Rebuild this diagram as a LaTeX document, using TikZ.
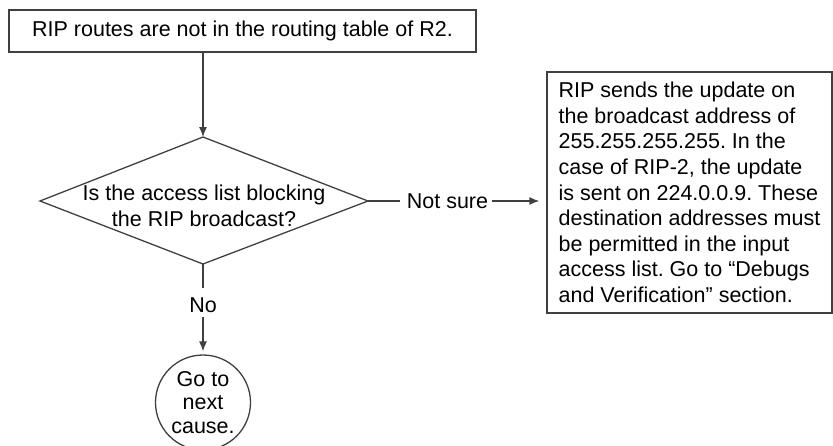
\documentclass[tikz,border=0pt]{standalone}
\usepackage{fontspec}
\setmainfont{Liberation Sans}
\usetikzlibrary{arrows.meta}
\frenchspacing
\begin{document}
\begin{tikzpicture}[x=1pt,y=-1pt,
  every node/.style={font=\fontsize{21.5}{25.6}\selectfont, text=black},
  edge/.style={draw=black!75, line width=1.3pt},
  arr/.style={edge, -{Latex[length=10pt,width=8pt]}},
  boxx/.style={draw=black!75, line width=1.3pt, rectangle, inner sep=0pt}
]
\useasboundingbox (0,0) rectangle (833,445);
% top box
\node[boxx, minimum width=467pt, minimum height=42pt] (top) at (242.5,31) {RIP routes are not in the routing table of R2.};
% diamond
\coordinate (dt) at (203,137);
\coordinate (dl) at (40,201);
\coordinate (dr) at (368,201);
\coordinate (db) at (203,264);
\draw[edge, line join=miter] (dt) -- (dr) -- (db) -- (dl) -- cycle;
\node[align=center, inner sep=0pt] (dq) at (204,206) {Is the access list blocking\\the RIP broadcast?};
% right box
\node[boxx, align=left, minimum width=285pt, minimum height=241pt] (info) at (689.5,192.5)
 {RIP sends the update on\\the broadcast address of\\255.255.255.255. In the\\case of RIP-2, the update\\is sent on 224.0.0.9. These\\destination addresses must\\be permitted in the input\\access list. Go to “Debugs\\and Verification” section.};
% labels
\node[inner sep=0pt] (ns) at (447.5,201) {Not sure};
\node[inner sep=0pt] (no) at (203,305) {No};
% circle
\node[draw=black!75, line width=1.3pt, circle, minimum size=95pt, inner sep=0pt, align=center,
  font=\fontsize{21.5}{23.5}\selectfont] (gc) at (203,402.5) {Go to\\next\\cause.};
% connectors
\draw[arr] (top.south -| dt) -- (dt);
\draw[edge] (dr) -- ([xshift=-7pt]ns.west);
\draw[arr, shorten >=7pt] ([xshift=4pt]ns.east) -- (info.west |- ns);
\draw[edge] (db) -- ([yshift=9pt]no.north);
\draw[arr, shorten >=3pt] ([yshift=-4pt]no.south) -- (gc.north);
\end{tikzpicture}
\end{document}
